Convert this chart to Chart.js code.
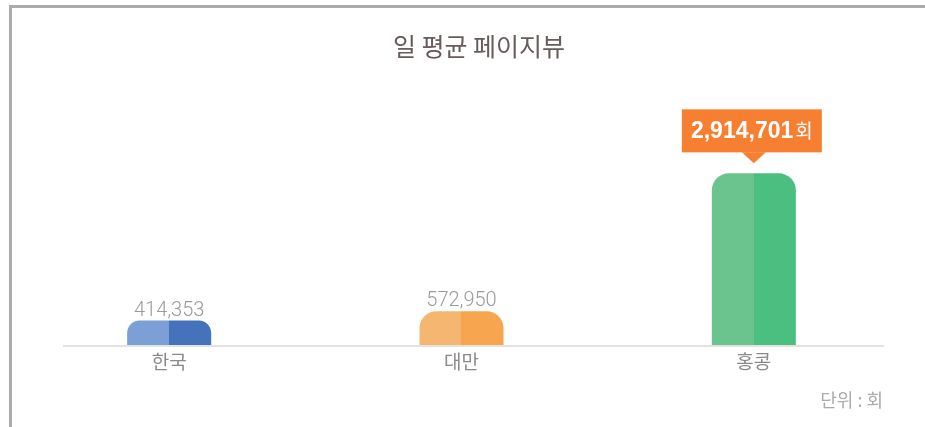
<!DOCTYPE html>
<html>
<head>
<meta charset="utf-8">
<script src="https://cdn.jsdelivr.net/npm/chart.js@4.4.0/dist/chart.umd.min.js"></script>
<style>
html, body { margin: 0; padding: 0; background: #fff; }
#wrap { position: relative; width: 925px; height: 427px; overflow: hidden; }
#frame { position: absolute; left: 9px; top: 5px; width: 940px; height: 440px;
         border-top: 3px solid #abaab0; border-left: 3px solid #abaab0; }
canvas { position: absolute; left: 0; top: 0; }
</style>
</head>
<body>
<div id="wrap">
  <div id="frame"></div>
  <canvas id="chart" width="925" height="427"></canvas>
</div>
<script>
const titleText = '일 평균 페이지뷰';
const unitText = '단위 : 회';
const unitSuffix = '회';
const categories = ['한국', '대만', '홍콩'];
const pageViews = [414353, 572950, 2914701];
const lightColors = ['#7ba0d6', '#f5b672', '#6bc48d'];
const darkColors = ['#4473bb', '#f7a64f', '#4bbf80'];
const highlightIndex = 2;

const KR_FONT = '"Noto Sans CJK KR", "Noto Sans", sans-serif';

function fmt(v) {
    return v.toLocaleString('en-US');
}

// left half light, right half dark
function splitColor(ctx) {
    const chart = ctx.chart;
    const i = ctx.dataIndex;
    if (i === undefined || !chart.chartArea) {
        return darkColors[0];
    }
    const cx = chart.scales.x.getPixelForValue(i);
    const g = chart.ctx.createLinearGradient(cx - 60, 0, cx + 60, 0);
    g.addColorStop(0, lightColors[i]);
    g.addColorStop(0.5, lightColors[i]);
    g.addColorStop(0.5, darkColors[i]);
    g.addColorStop(1, darkColors[i]);
    return g;
}

const decorPlugin = {
    id: 'decor',
    afterDatasetsDraw(chart) {
        const ctx = chart.ctx;
        const area = chart.chartArea;
        const meta = chart.getDatasetMeta(0);
        ctx.save();

        // title
        ctx.fillStyle = '#675b5b';
        ctx.font = '25px ' + KR_FONT;
        ctx.textAlign = 'center';
        ctx.textBaseline = 'middle';
        ctx.fillText(titleText, 479, 46);

        // base line
        ctx.strokeStyle = '#e2e2e2';
        ctx.lineWidth = 2;
        ctx.beginPath();
        ctx.moveTo(63, area.bottom + 1);
        ctx.lineTo(884, area.bottom + 1);
        ctx.stroke();

        // category labels
        ctx.fillStyle = '#8a8a8a';
        ctx.font = '19px ' + KR_FONT;
        categories.forEach((c, i) => {
            ctx.fillText(c, chart.scales.x.getPixelForValue(i), area.bottom + 17);
        });

        // unit
        ctx.fillStyle = '#ababab';
        ctx.font = '18px ' + KR_FONT;
        ctx.textAlign = 'right';
        ctx.fillText(unitText, 883, 400);

        // value labels
        meta.data.forEach((bar, i) => {
            if (i === highlightIndex) {
                const tipY = bar.y - 10;
                const boxBottom = tipY - 11;
                const boxTop = boxBottom - 43;
                const boxW = 140;
                ctx.fillStyle = '#f77f31';
                ctx.fillRect(bar.x - boxW / 2 - 2, boxTop, boxW, 43);
                ctx.beginPath();
                ctx.moveTo(bar.x - 12, boxBottom);
                ctx.lineTo(bar.x + 12, boxBottom);
                ctx.lineTo(bar.x, tipY);
                ctx.closePath();
                ctx.fill();

                const numText = fmt(pageViews[i]);
                const numFont = 'bold 23px "Liberation Sans", Arial, sans-serif';
                const sufFont = '19px ' + KR_FONT;
                ctx.font = numFont;
                const w1 = ctx.measureText(numText).width;
                ctx.font = sufFont;
                const w2 = ctx.measureText(unitSuffix).width;
                const startX = bar.x - 2 - (w1 + 2 + w2) / 2;
                ctx.fillStyle = '#ffffff';
                ctx.textAlign = 'left';
                ctx.textBaseline = 'alphabetic';
                ctx.font = numFont;
                ctx.fillText(numText, startX, boxTop + 29);
                ctx.font = sufFont;
                ctx.fillText(unitSuffix, startX + w1 + 2, boxTop + 29);
            } else {
                ctx.fillStyle = '#9b9b9b';
                ctx.font = '300 20px Roboto, "Liberation Sans", sans-serif';
                ctx.textAlign = 'center';
                ctx.textBaseline = 'alphabetic';
                ctx.fillText(fmt(pageViews[i]), bar.x, bar.y - 5);
            }
        });

        ctx.restore();
    }
};

new Chart(document.getElementById('chart').getContext('2d'), {
    type: 'bar',
    data: {
        labels: categories,
        datasets: [{
            label: titleText,
            data: pageViews,
            backgroundColor: splitColor,
            borderWidth: 0,
            borderRadius: { topLeft: 17, topRight: 17, bottomLeft: 0, bottomRight: 0 },
            barPercentage: 0.2875,
            categoryPercentage: 1
        }]
    },
    options: {
        responsive: false,
        animation: false,
        layout: {
            padding: { left: 23, right: 25, top: 80, bottom: 82 }
        },
        scales: {
            x: { display: false },
            y: { display: false, min: 0, max: 4500000 }
        },
        plugins: {
            legend: { display: false },
            title: { display: false },
            tooltip: { enabled: false }
        }
    },
    plugins: [decorPlugin]
});
</script>
</body>
</html>
